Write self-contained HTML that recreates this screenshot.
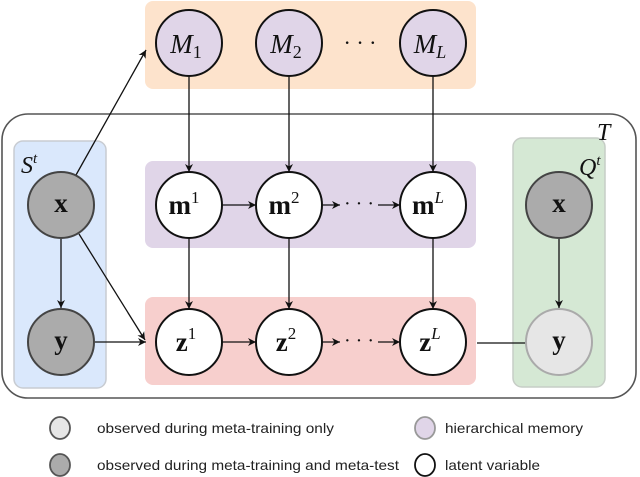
<!DOCTYPE html>
<html><head><meta charset="utf-8"><style>body{margin:0;background:#fff}svg{display:block}</style></head>
<body>
<svg width="640" height="477" viewBox="0 0 640 477" xmlns="http://www.w3.org/2000/svg">
<defs>
<marker id="a" viewBox="0 0 10 10" refX="10" refY="5" markerWidth="8" markerHeight="8" orient="auto" markerUnits="userSpaceOnUse"><path d="M0,0 L10,5 L0,10 L3,5 z" fill="#111"/></marker>
</defs>
<rect x="2" y="114" width="634" height="284" rx="26" fill="none" stroke="#555" stroke-width="1.6"/>
<rect x="145" y="1" width="331" height="88" rx="8" fill="#fde3cc"/>
<rect x="145" y="161" width="331" height="87" rx="8" fill="#e0d5e8"/>
<rect x="145" y="297" width="331" height="88" rx="8" fill="#f7cfcd"/>
<rect x="14" y="141" width="92" height="247" rx="9" fill="#dae8fc" stroke="#c8ccd2" stroke-width="1.5"/>
<rect x="513" y="138" width="92" height="249" rx="9" fill="#d5e8d4" stroke="#c6cdc6" stroke-width="1.5"/>
<g font-family="Liberation Serif, serif" font-style="italic" font-size="24" fill="#111">
<text x="21" y="173">S<tspan font-size="15" dy="-10">t</tspan></text>
<text x="579" y="175">Q<tspan font-size="15" dy="-10">t</tspan></text>
<text x="597" y="140">T</text>
</g>
<g stroke="#111" stroke-width="1.3" fill="none">
<line x1="76" y1="175" x2="146" y2="50" marker-end="url(#a)"/>
<line x1="189" y1="77" x2="189" y2="172" marker-end="url(#a)"/>
<line x1="289" y1="77" x2="289" y2="172" marker-end="url(#a)"/>
<line x1="433" y1="77" x2="433" y2="172" marker-end="url(#a)"/>
<line x1="189" y1="238" x2="189" y2="309" marker-end="url(#a)"/>
<line x1="289" y1="238" x2="289" y2="309" marker-end="url(#a)"/>
<line x1="433" y1="238" x2="433" y2="309" marker-end="url(#a)"/>
<line x1="222" y1="205" x2="256" y2="205" marker-end="url(#a)"/>
<line x1="322" y1="205" x2="340" y2="205" marker-end="url(#a)"/>
<line x1="378" y1="205" x2="400" y2="205" marker-end="url(#a)"/>
<line x1="222" y1="342" x2="256" y2="342" marker-end="url(#a)"/>
<line x1="322" y1="342" x2="340" y2="342" marker-end="url(#a)"/>
<line x1="378" y1="342" x2="400" y2="342" marker-end="url(#a)"/>
<line x1="61" y1="239" x2="61" y2="308" marker-end="url(#a)"/>
<line x1="79" y1="234" x2="145" y2="340" marker-end="url(#a)"/>
<line x1="95" y1="342" x2="146" y2="342" marker-end="url(#a)"/>
<line x1="559" y1="239" x2="559" y2="308" marker-end="url(#a)"/>
<line x1="477" y1="343" x2="527" y2="343"/>
</g>
<g font-family="Liberation Serif, serif" font-size="22" fill="#111" text-anchor="middle">
<text x="360" y="50">· · ·</text>
<text x="359" y="210" font-size="20">· · ·</text>
<text x="359" y="347" font-size="20">· · ·</text>
</g>
<g stroke="#111" stroke-width="2">
<circle cx="189" cy="43" r="33" fill="#e0d5e8"/>
<circle cx="289" cy="43" r="33" fill="#e0d5e8"/>
<circle cx="433" cy="43" r="33" fill="#e0d5e8"/>
<circle cx="189" cy="205" r="33" fill="#fff"/>
<circle cx="289" cy="205" r="33" fill="#fff"/>
<circle cx="433" cy="205" r="33" fill="#fff"/>
<circle cx="189" cy="342" r="33" fill="#fff"/>
<circle cx="289" cy="342" r="33" fill="#fff"/>
<circle cx="433" cy="342" r="33" fill="#fff"/>
<circle cx="61" cy="205" r="33" fill="#ababab" stroke="#444"/>
<circle cx="61" cy="342" r="33" fill="#ababab" stroke="#444"/>
<circle cx="559" cy="205" r="33" fill="#ababab" stroke="#444"/>
<circle cx="559" cy="342" r="33" fill="#e6e6e6" stroke="#aaa"/>
</g>
<g font-family="Liberation Serif, serif" font-size="27" fill="#111" text-anchor="middle">
<g font-style="italic">
<text x="186" y="53">M<tspan font-style="normal" font-size="18" dy="5">1</tspan></text>
<text x="286" y="53">M<tspan font-style="normal" font-size="18" dy="5">2</tspan></text>
<text x="430" y="53">M<tspan font-size="18" dy="5">L</tspan></text>
</g>
<g font-weight="bold">
<text x="184" y="214">m<tspan font-weight="normal" font-size="17" dy="-11">1</tspan></text>
<text x="284" y="214">m<tspan font-weight="normal" font-size="17" dy="-11">2</tspan></text>
<text x="428" y="214">m<tspan font-weight="normal" font-style="italic" font-size="17" dy="-11">L</tspan></text>
<text x="186" y="351">z<tspan font-weight="normal" font-size="17" dy="-12">1</tspan></text>
<text x="286" y="351">z<tspan font-weight="normal" font-size="17" dy="-12">2</tspan></text>
<text x="430" y="351">z<tspan font-weight="normal" font-style="italic" font-size="17" dy="-12">L</tspan></text>
<text x="61" y="212">x</text>
<text x="61" y="349">y</text>
<text x="559" y="212">x</text>
<text x="559" y="349">y</text>
</g>
</g>
<g stroke-width="1.8">
<ellipse cx="60" cy="428" rx="10" ry="11" fill="#e6e6e6" stroke="#555"/>
<ellipse cx="60" cy="465" rx="10" ry="11" fill="#ababab" stroke="#555"/>
<ellipse cx="425" cy="428" rx="10" ry="11" fill="#e0d5e8" stroke="#999"/>
<ellipse cx="425" cy="465" rx="10" ry="11" fill="#fff" stroke="#111"/>
</g>
<g font-family="Liberation Sans, sans-serif" font-size="14" fill="#222">
<text x="97" y="433" textLength="237" lengthAdjust="spacingAndGlyphs">observed during meta-training only</text>
<text x="97" y="470" textLength="302" lengthAdjust="spacingAndGlyphs">observed during meta-training and meta-test</text>
<text x="445" y="433" textLength="138" lengthAdjust="spacingAndGlyphs">hierarchical memory</text>
<text x="445" y="470" textLength="95" lengthAdjust="spacingAndGlyphs">latent variable</text>
</g>
</svg>
</body></html>
